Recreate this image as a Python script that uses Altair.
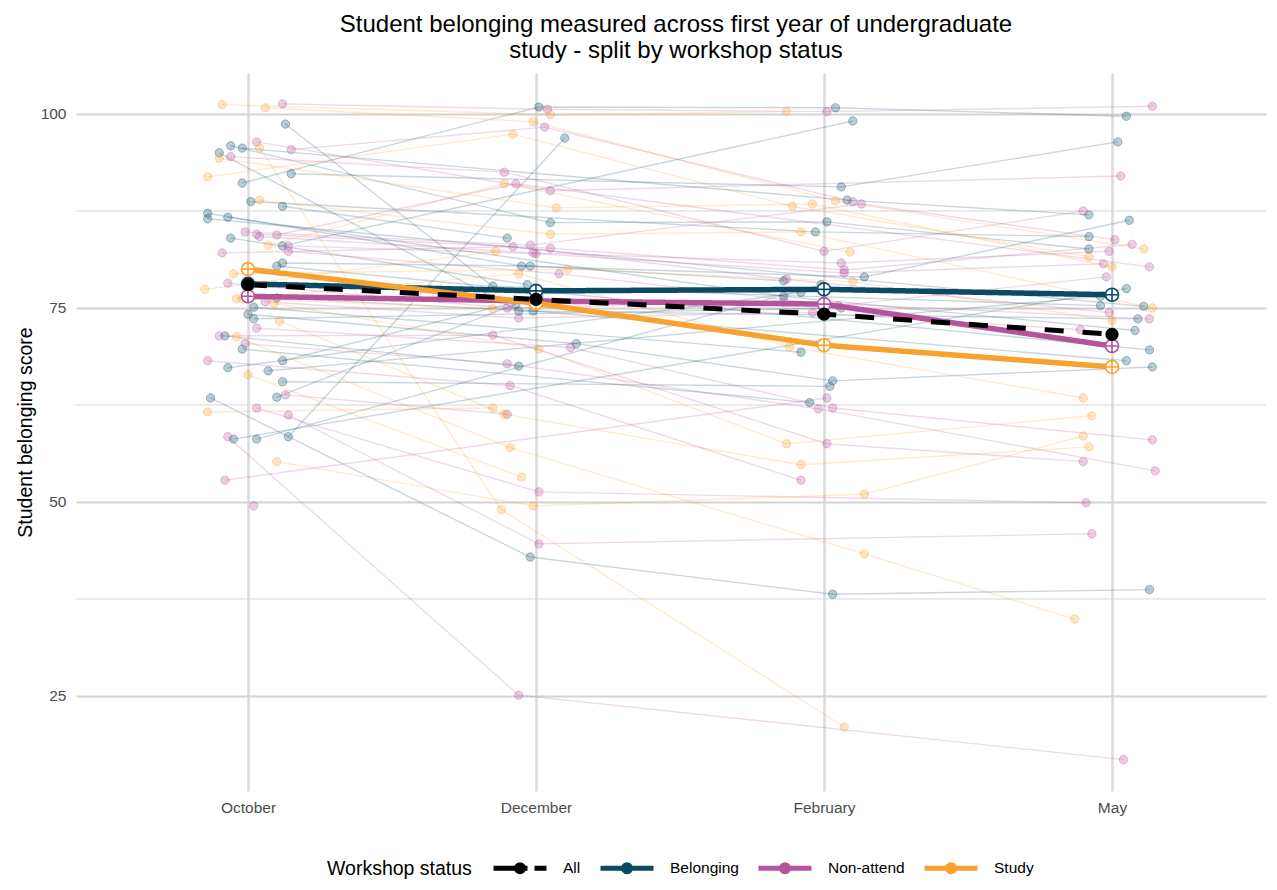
import altair as alt
import pandas as pd

# ---------------- data ----------------
months = ["October", "December", "February", "May"]
groups = ["All", "Belonging", "Non-attend", "Study"]
colors = ["#000000", "#0b4a64", "#b5549c", "#f7a12f"]

mean_all = [78.0, 76.1, 74.2, 71.6]
mean_belonging = [78.1, 77.2, 77.4, 76.7]
mean_nonattend = [76.5, 75.9, 75.5, 70.1]
mean_study = [80.0, 75.6, 70.2, 67.4]

minor_grid = [37.5, 62.5, 87.5]
major_ticks = [25, 50, 75, 100]

N = None
# scores per student: [October, December, February, May]
belonging_scores = [
    [98.7, 77.8, N, 75.3], [95.9, 86.0, 86.1, 82.6], [95.6, N, 88.9, 87.0],
    [95.0, 74.6, N, 73.6], [92.3, N, 90.6, 96.4], [91.1, 100.9, 100.8, 99.7],
    [88.7, N, 84.8, 84.2], [88.1, 84.0, N, N], [87.2, 80.4, 79.0, 86.3],
    [86.7, N, 76.5, 72.1], [86.5, N, N, 75.2], [84.0, 78.0, N, N],
    [83.0, N, 99.1, N], [80.8, 80.4, 78.5, N], [80.4, N, N, 69.6],
    [76.3, 74.6, N, 68.2], [75.1, N, 69.3, N], [74.2, 70.4, 65.6, 67.4],
    [73.6, N, 75.0, N], [71.4, 67.5, N, N], [69.7, N, 62.8, N],
    [68.2, 76.5, N, N], [67.3, N, 77.0, N], [66.9, N, N, 76.5],
    [65.5, N, 64.9, N], [63.4, 42.9, 38.1, 38.7], [63.5, 75.5, N, N],
    [58.1, N, N, 77.5], [58.1, N, 78.0, N], [58.4, 96.9, N, N],
]
# horizontal jitter of each observation (in month units)
belonging_jitter = [
    [0.13, -0.15, N, -0.04], [-0.06, 0.05, 0.01, -0.08], [-0.02, N, 0.08, -0.08],
    [-0.10, -0.06, N, 0.09], [0.15, N, 0.06, 0.02], [-0.02, 0.01, 0.04, 0.05],
    [0.01, N, -0.03, -0.08], [0.12, -0.10, N, N], [-0.14, -0.05, 0.14, 0.06],
    [-0.07, N, -0.14, 0.08], [-0.14, N, N, 0.11], [-0.06, -0.03, N, N],
    [0.12, N, 0.10, N], [0.12, -0.02, -0.14, N], [0.10, N, N, 0.13],
    [0.10, -0.01, N, 0.05], [0.02, N, -0.08, N], [0.00, 0.14, 0.03, 0.14],
    [0.02, N, 0.06, N], [-0.08, -0.06, N, N], [-0.02, N, -0.05, N],
    [0.12, 0.01, N, N], [-0.07, N, -0.08, N], [0.07, N, N, -0.04],
    [0.12, N, 0.02, N], [-0.13, -0.02, 0.03, 0.13], [0.10, -0.07, N, N],
    [-0.05, N, N, 0.05], [0.03, N, -0.01, N], [0.14, 0.10, N, N],
]

nonattend_scores = [
    [101.3, 100.6, 100.3, 101.0], [96.4, 90.1, N, 92.0], [95.4, 98.3, 88.7, N],
    [94.5, 92.5, 82.3, 87.5], [84.8, 83.1, 88.4, 83.8], [84.5, 82.7, 79.9, 83.2],
    [84.4, 91.0, N, 80.3], [84.2, 82.1, 80.8, 82.3], [83.0, 82.0, 79.5, 80.7],
    [82.3, 79.4, 75.3, 79.0], [82.1, 82.9, 78.7, 74.4], [78.2, 75.0, 75.9, 73.6],
    [75.8, 73.7, 74.4, 72.2], [72.4, 69.9, 62.1, 58.0], [71.4, 71.5, 57.5, 55.2],
    [70.4, 67.8, 62.0, 54.0], [68.2, 65.0, 52.8, N], [63.8, 61.3, N, N],
    [62.1, 51.3, N, 49.9], [61.2, 44.6, N, 45.9], [58.4, 25.1, N, 16.8],
    [52.8, N, 63.4, N], [49.5, N, N, N],
]
nonattend_jitter = [
    [0.12, 0.04, 0.01, 0.14], [0.03, 0.05, N, 0.03], [0.15, 0.03, 0.10, N],
    [-0.06, -0.11, 0.00, -0.10], [-0.01, -0.02, 0.13, 0.01], [0.03, 0.05, 0.07, 0.07],
    [0.10, -0.07, N, 0.13], [0.04, -0.01, 0.06, -0.01], [0.14, 0.00, 0.07, -0.03],
    [0.14, 0.08, 0.05, -0.02], [-0.09, -0.08, -0.13, -0.01], [-0.07, -0.10, -0.14, 0.13],
    [0.06, -0.06, -0.04, -0.11], [0.03, 0.12, 0.03, 0.14], [-0.10, -0.15, 0.01, -0.10],
    [-0.01, -0.10, -0.02, 0.15], [-0.14, -0.09, -0.08, N], [0.13, -0.10, N, N],
    [0.03, 0.01, N, -0.09], [0.14, 0.01, N, -0.07], [-0.07, -0.06, N, 0.04],
    [-0.08, N, 0.01, N], [0.02, N, N, N],
]

study_scores = [
    [101.2, 99.9, 100.3, N], [100.8, 99.0, 88.8, 82.6], [95.6, 49.0, 21.0, N],
    [94.3, 87.9, 88.4, 80.3], [91.9, 97.4, 88.1, 81.6], [88.9, 84.5, 84.8, 75.0],
    [83.1, 91.0, 82.2, N], [79.4, 80.0, 78.4, 73.4], [77.4, 82.3, N, N],
    [76.2, 79.4, 70.0, 63.4], [76.2, 74.9, N, N], [75.6, 69.7, 57.5, 61.1],
    [73.3, 61.3, 54.8, 57.1], [71.3, 57.0, 43.3, 34.9], [66.4, 53.2, N, N],
    [61.6, 62.1, N, N], [55.2, 49.5, 51.0, 58.5],
]
study_jitter = [
    [-0.09, 0.05, -0.13, N], [0.06, -0.01, 0.04, 0.11], [0.04, -0.12, 0.07, N],
    [-0.10, 0.07, -0.04, 0.00], [-0.14, -0.08, -0.11, -0.08], [0.04, 0.05, -0.08, 0.14],
    [0.07, -0.11, 0.09, N], [-0.05, 0.11, 0.10, 0.00], [-0.15, -0.14, N, N],
    [-0.04, -0.06, -0.12, -0.10], [-0.02, -0.15, N, N], [0.09, 0.01, -0.13, -0.07],
    [0.11, -0.11, -0.08, -0.08], [-0.04, -0.09, 0.14, -0.13], [0.00, -0.05, N, N],
    [-0.14, -0.15, N, N], [0.10, -0.01, 0.14, -0.10],
]

# ---------------- tables ----------------
rows = []
for gname, scores, jits in [("Belonging", belonging_scores, belonging_jitter),
                            ("Non-attend", nonattend_scores, nonattend_jitter),
                            ("Study", study_scores, study_jitter)]:
    for i, (srow, jrow) in enumerate(zip(scores, jits)):
        for m in range(4):
            if srow[m] is not None:
                rows.append({"student": f"{gname}-{i}", "group": gname,
                             "month": m + 1, "score": srow[m], "jit": jrow[m]})
indiv = pd.DataFrame(rows)

mrows = []
for gname, vals in [("All", mean_all), ("Belonging", mean_belonging),
                    ("Non-attend", mean_nonattend), ("Study", mean_study)]:
    for m, v in enumerate(vals):
        mrows.append({"group": gname, "month": m + 1, "score": v})
means = pd.DataFrame(mrows)
means_groups = means[means.group != "All"]
means_all = means[means.group == "All"]

grid_df = pd.DataFrame({"v": minor_grid})

# ---------------- encodings ----------------
FONT = "Liberation Sans"
label_expr = "[" + ",".join(f"'{m}'" for m in months) + "][datum.value - 1]"

x_scale = alt.Scale(domain=[0.4028, 4.5347], nice=False, zero=False)
y_scale = alt.Scale(domain=[12.75, 105.28], nice=False, zero=False)
x_axis = alt.Axis(values=[1, 2, 3, 4], labelExpr=label_expr, title=None,
                  grid=True, gridColor="#dcdcdc", gridWidth=2.6,
                  domain=False, ticks=False, labelPadding=9,
                  labelFontSize=15.5, labelColor="#4d4d4d", labelFont=FONT)
y_axis = alt.Axis(values=major_ticks, title="Student belonging score",
                  grid=True, gridColor="#d3d3d3", gridWidth=1.8,
                  domain=False, ticks=False, labelPadding=10,
                  labelFontSize=15.5, labelColor="#4d4d4d", labelFont=FONT,
                  titleFontSize=19.5, titleFont=FONT, titleFontWeight="normal",
                  titleColor="black", titlePadding=5)
color_scale = alt.Scale(domain=groups, range=colors)
# the three student groups only (kept separate so the legend stays single)
group_scale = alt.Scale(domain=groups[1:], range=colors[1:])
dash_scale = alt.Scale(domain=groups,
                       range=[[34, 7, 12, 0], [1, 0], [1, 0], [1, 0]])

X = alt.X("xpos:Q", scale=x_scale, axis=x_axis)
XM = alt.X("month:Q", scale=x_scale, axis=x_axis)
Y = alt.Y("score:Q", scale=y_scale, axis=y_axis)
STROKE = alt.Stroke("group:N", scale=group_scale, legend=None)
FILL = alt.Fill("group:N", scale=group_scale, legend=None)

legend_path = ("M-1,0H1M0.13,0A0.13,0.13,0,1,1,-0.13,0A0.13,0.13,0,1,1,0.13,0"
               "M0.04,0A0.04,0.04,0,1,1,-0.04,0A0.04,0.04,0,1,1,0.04,0")
oplus = "M-1,0A1,1,0,1,0,1,0A1,1,0,1,0,-1,0ZM-1,0H1M0,-1V1"

legend = alt.Legend(
    orient="none", legendX=251, legendY=766, direction="horizontal",
    title="Workshop status", titleOrient="left", titleFontSize=19.5,
    titleFont=FONT, titleFontWeight="normal", titleColor="black",
    titleAnchor="middle", titleBaseline="top",
    titlePadding=19, labelFontSize=15.5, labelFont=FONT, labelColor="black",
    labelOffset=14, columnPadding=9, symbolType=legend_path,
    symbolSize=2809, symbolStrokeWidth=5, symbolFillColor="transparent",
)

# ---------------- layers ----------------
minor = alt.Chart(grid_df).mark_rule(color="#d6d6d6", strokeWidth=1).encode(
    y=alt.Y("v:Q", scale=y_scale, axis=y_axis))

ind_lines = alt.Chart(indiv).transform_calculate(
    xpos="datum.month + datum.jit").mark_line(strokeWidth=1.4, opacity=0.22).encode(
    x=X, y=Y, detail="student:N", order="month:Q", stroke=STROKE)

ind_points = alt.Chart(indiv).transform_calculate(
    xpos="datum.month + datum.jit").mark_point(
    shape="circle", filled=False, size=70, fillOpacity=0.28, strokeOpacity=0.35,
    strokeWidth=1).encode(x=X, y=Y, fill=FILL, stroke=STROKE)

mean_lines = alt.Chart(means_groups).mark_line(strokeWidth=5.5).encode(
    x=XM, y=Y, order="month:Q",
    color=alt.Color("group:N", scale=color_scale, legend=legend),
    strokeDash=alt.StrokeDash("group:N", scale=dash_scale, legend=legend))

all_line = alt.Chart(means_all).mark_line(
    strokeWidth=5, strokeDash=[19, 19], color="black").encode(
    x=XM, y=Y, order="month:Q")

mean_points = alt.Chart(means_groups).mark_point(
    shape=oplus, size=169, strokeWidth=1.6, fill="white", filled=False,
    opacity=1).encode(x=XM, y=Y, stroke=STROKE)

all_points = alt.Chart(means_all).mark_circle(
    size=175, color="black", opacity=1).encode(x=XM, y=Y)

chart = alt.layer(minor, ind_lines, ind_points, mean_lines, all_line,
                  mean_points, all_points).properties(
    width=1190, height=718,
    autosize=alt.AutoSizeParams(type="none"),
    padding={"left": 68, "top": 65, "right": 3, "bottom": 88},
    title=alt.Title(
        text=["Student belonging measured across first year of undergraduate",
              "study - split by workshop status"],
        fontSize=24, font=FONT, fontWeight="normal", color="black",
        anchor="middle", offset=10, dx=5, lineHeight=26),
).configure(background="white", view=alt.ViewConfig(strokeWidth=0, stroke="transparent"))

chart.save("out.html", embed_options={"renderer": "svg", "actions": False})
